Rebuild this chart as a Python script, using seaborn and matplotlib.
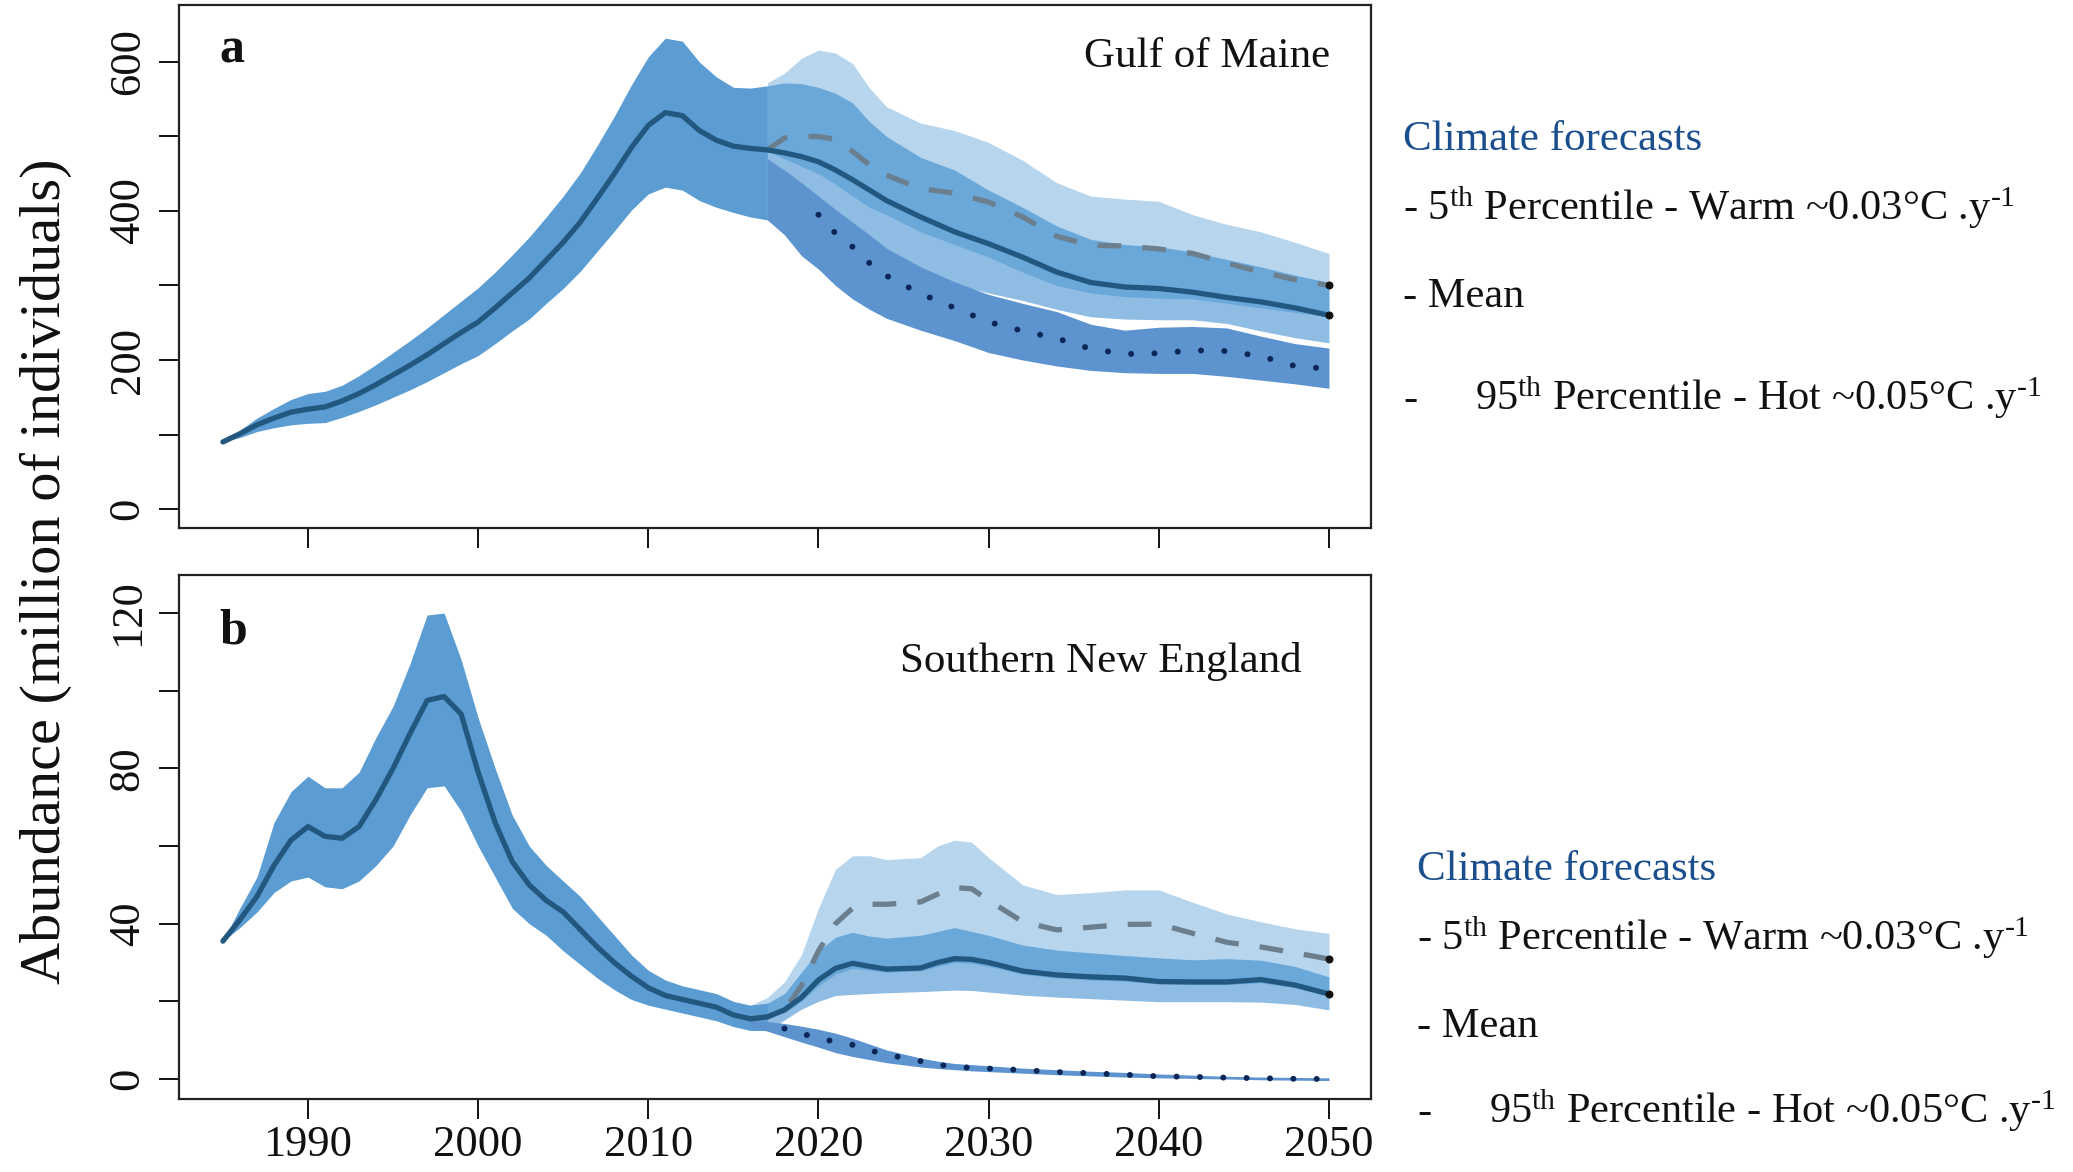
import numpy as np
import matplotlib
matplotlib.use("Agg")
import matplotlib.pyplot as plt
import seaborn as sns

# ---------------------------------------------------------------
# Gulf of Maine (panel a) - million of individuals
# ---------------------------------------------------------------
a_hist_years = list(range(1985, 2018))
a_hist_mean = [90, 101, 113, 122, 130, 134, 137, 145, 155, 167, 180, 193, 207, 222, 237,
               251, 270, 290, 310, 334, 358, 385, 417, 450, 485, 515, 532, 528, 508, 495,
               487, 484, 482]
a_hist_hi = [90, 106, 122, 135, 147, 155, 158, 166, 179, 194, 210, 226, 243, 261, 279,
             297, 318, 341, 365, 392, 420, 451, 488, 527, 569, 607, 632, 628, 600, 580,
             566, 565, 568]
a_hist_lo = [90, 96, 104, 109, 113, 115, 116, 123, 131, 140, 150, 160, 171, 183, 195,
             206, 222, 239, 255, 276, 296, 319, 346, 373, 401, 423, 432, 428, 414, 405,
             398, 392, 388]

a_fc_years = [2017, 2018, 2019, 2020, 2021, 2022, 2023, 2024, 2026, 2028, 2030,
              2032, 2034, 2036, 2038, 2040, 2042, 2044, 2046, 2048, 2050]
a_mean = [482, 478, 473, 466, 455, 442, 428, 414, 392, 372, 356,
          338, 318, 304, 298, 296, 291, 284, 278, 270, 260]
a_mean_hi = [568, 572, 571, 566, 558, 545, 520, 500, 472, 455, 428,
             405, 380, 362, 355, 352, 345, 335, 325, 314, 304]
a_mean_lo = [388, 383, 377, 370, 360, 350, 340, 330, 315, 302, 290,
             280, 268, 258, 255, 254, 254, 249, 239, 230, 223]
a_warm = [482, 498, 500, 500, 496, 480, 462, 448, 430, 424, 412,
          392, 366, 354, 353, 349, 343, 330, 318, 308, 300]
a_warm_hi = [572, 585, 605, 616, 612, 598, 565, 540, 518, 508, 492,
             468, 438, 420, 416, 413, 395, 382, 372, 358, 343]
a_warm_lo = [480, 470, 460, 450, 436, 420, 405, 395, 372, 355, 338,
             318, 300, 290, 285, 283, 282, 276, 270, 264, 258]
a_hot = [482, 452, 420, 395, 370, 352, 330, 313, 289, 270, 251,
         239, 229, 215, 208, 209, 213, 212, 205, 192, 188]
a_hot_hi = [470, 455, 438, 420, 402, 385, 368, 350, 325, 305, 288,
            276, 265, 248, 240, 244, 245, 243, 232, 222, 216]
a_hot_lo = [388, 368, 340, 322, 300, 282, 268, 256, 240, 226, 210,
            200, 192, 186, 183, 182, 182, 178, 173, 168, 162]
a_hot_line_from = 2020

# ---------------------------------------------------------------
# Southern New England (panel b) - million of individuals
# ---------------------------------------------------------------
b_hist_years = list(range(1985, 2018))
b_hist_mean = [35.5, 41, 47, 55, 61.5, 65, 62.5, 62, 65, 72, 80, 89, 97.5, 98.5, 94,
               79, 66, 56, 50, 46, 43, 38.5, 34, 30, 26.5, 23.5, 21.5, 20.5, 19.5, 18.5,
               16.5, 15.5, 16]
b_hist_hi = [35.5, 44, 52, 66, 74, 78, 75, 75, 79, 88, 96, 107, 119.5, 120, 108,
             93, 80, 68, 60, 55, 51, 47, 42, 37, 32, 28, 25.5, 24, 23, 22,
             20, 19, 19.5]
b_hist_lo = [35.5, 39, 43, 48, 51, 52, 49.5, 49, 51, 55, 60, 68, 75, 75.5, 69,
             60, 52, 44, 40, 37, 33, 29.5, 26, 23, 20.5, 19, 18, 17, 16, 15,
             13.5, 12.5, 12.5]

b_fc_years = [2016, 2017, 2018, 2019, 2020, 2021, 2022, 2023, 2024, 2026, 2027, 2028,
              2029, 2030, 2032, 2034, 2036, 2038, 2040, 2042, 2044, 2046, 2048, 2050]
b_mean = [15.5, 16, 17.8, 21, 25.5, 28.5, 29.8, 29, 28.3, 28.6, 30, 31,
          30.8, 30, 27.8, 26.8, 26.3, 26, 25.1, 25, 25, 25.6, 24.2, 21.9]
b_mean_hi = [19, 19.5, 22, 27.5, 33, 36.5, 37.8, 36.8, 36.3, 37, 38, 39,
             38, 37, 34.5, 33.2, 32.5, 31.8, 31.2, 30.7, 31, 30.6, 29, 26.3]
b_mean_lo = [12.5, 12.5, 15.2, 18, 20, 21.5, 21.8, 22, 22.2, 22.5, 22.7, 22.9,
             22.8, 22.4, 21.6, 21.1, 20.7, 20.3, 19.9, 19.9, 19.9, 19.8, 19.2, 17.8]
b_warm = [15.5, 16, 17.8, 24, 33, 40, 44, 45, 45, 45.6, 47.6, 49.3,
          49, 46, 40.5, 38.4, 39.1, 39.8, 39.9, 37.5, 35.2, 34, 32.5, 30.9]
b_warm_hi = [19, 21, 25, 32, 44, 54, 57.5, 57.5, 56.5, 57, 60, 61.5,
             61, 57, 50, 47.5, 48, 48.7, 48.7, 45.5, 42.5, 40.5, 38.7, 37.5]
b_warm_lo = [15.5, 16, 17, 20, 24, 27, 28.5, 28, 27.5, 27.8, 29, 30,
             29.8, 29, 27, 26, 25.5, 25.2, 24.5, 24.3, 24.3, 24.8, 23.5, 21.3]
b_hot = [15.5, 15, 13, 11.8, 10.3, 9.7, 8.8, 7.4, 6.3, 4.6, 3.7, 3.1,
         2.9, 2.7, 2.3, 1.8, 1.5, 1.1, 0.7, 0.55, 0.35, 0.2, 0.05, 0.0]
b_hot_hi = [15, 14.8, 14.3, 13.6, 12.8, 11.8, 10.5, 9.0, 7.5, 5.4, 4.6, 4.0,
            3.7, 3.4, 2.8, 2.4, 2.0, 1.7, 1.3, 1.0, 0.7, 0.5, 0.4, 0.3]
b_hot_lo = [13.5, 12.3, 10.9, 9.5, 8.2, 6.8, 5.8, 5.0, 4.2, 3.1, 2.7, 2.4,
            2.1, 1.9, 1.5, 1.1, 0.8, 0.5, 0.3, 0.15, 0.0, -0.2, -0.3, -0.4]
b_hot_line_from = 2018

# axis ticks and labels
x_ticks = [1990, 2000, 2010, 2020, 2030, 2040, 2050]
a_yticks = [0, 100, 200, 300, 400, 500, 600]
b_yticks = [0, 20, 40, 60, 80, 100, 120]

legend_head = "Climate forecasts"
legend_warm = r"- 5$^{\text{th}}$ Percentile - Warm ~0.03°C .y$^{\text{-1}}$"
legend_mean = "- Mean"
legend_hot = r"95$^{\text{th}}$ Percentile - Hot ~0.05°C .y$^{\text{-1}}$"

# colours
WARM_FILL = "#b7d6ee"
MEAN_FILL = "#1f7bc8"
HIST_FILL = "#5b9dd3"
HOT_FILL = "#5d93cf"
MEAN_LINE = "#22587f"
WARM_LINE = "#6b7f8e"
HOT_LINE = "#0b2657"
HEAD_COLOR = "#1b4f8d"

sns.set_theme(style="ticks")
plt.rcParams["font.family"] = ["Liberation Serif", "DejaVu Serif"]
plt.rcParams["mathtext.fontset"] = "custom"
plt.rcParams["mathtext.rm"] = "Liberation Serif"
plt.rcParams["mathtext.it"] = "Liberation Serif:italic"
plt.rcParams["mathtext.bf"] = "Liberation Serif:bold"

W, H = 2073, 1172
fig = plt.figure(figsize=(W / 100, H / 100), dpi=100)
fig.patch.set_facecolor("white")


def box(left, top, right, bottom):
    return [left / W, 1 - bottom / H, (right - left) / W, (bottom - top) / H]


ax_a = fig.add_axes(box(179, 5, 1371, 528))
ax_b = fig.add_axes(box(179, 575, 1371, 1099))


def draw_panel(ax, hist_years, hist_mean, hist_hi, hist_lo, fc_years,
               mean, mean_hi, mean_lo, warm, warm_hi, warm_lo, hot, hot_hi, hot_lo,
               hot_from):
    # forecast envelopes
    ax.fill_between(fc_years, warm_lo, warm_hi, color=WARM_FILL, lw=0, zorder=1)
    ax.fill_between(fc_years, mean_lo, mean_hi, color=MEAN_FILL, alpha=0.5, lw=0, zorder=2)
    # hindcast envelope
    ax.fill_between(hist_years, hist_lo, hist_hi, color=HIST_FILL, lw=0, zorder=3)
    ax.fill_between(fc_years, hot_lo, hot_hi, color=HOT_FILL, lw=0, zorder=4)

    sns.lineplot(x=fc_years, y=warm, ax=ax, color=WARM_LINE, lw=3.8,
                 linestyle=(0, (4.5, 4.0)), zorder=5, estimator=None, sort=False,
                 marker="o", markevery=[len(fc_years) - 1], markersize=5,
                 markerfacecolor="#111111", markeredgecolor="#111111")
    hx = [x for x in fc_years if x >= hot_from]
    hy = [y for x, y in zip(fc_years, hot) if x >= hot_from]
    sns.lineplot(x=hx, y=hy, ax=ax, color=HOT_LINE, lw=4.3,
                 linestyle=(0, (0.01, 3.9)), dash_capstyle="round", zorder=6,
                 estimator=None, sort=False)
    cut = fc_years.index(hist_years[-1]) + 1
    years_all = list(hist_years) + list(fc_years[cut:])
    mean_all = list(hist_mean) + list(mean[cut:])
    sns.lineplot(x=years_all, y=mean_all, ax=ax, color=MEAN_LINE, lw=3.8, zorder=7,
                 estimator=None, sort=False, solid_capstyle="round",
                 marker="o", markevery=[len(years_all) - 1], markersize=5,
                 markerfacecolor="#111111", markeredgecolor="#111111")


def style_axis(ax, yticks, ylim):
    ax.set_xlim(1982.42, 2052.47)
    ax.set_ylim(*ylim)
    ax.set_xticks(x_ticks)
    ax.set_xticklabels([str(t) for t in x_ticks])
    ax.set_yticks(yticks)
    ax.set_yticklabels([str(v) if i % 2 == 0 else "" for i, v in enumerate(yticks)],
                       rotation=90, va="center")
    ax.tick_params(axis="both", direction="out", length=14.5, width=1.4,
                   labelsize=32, colors="#111111")
    ax.tick_params(axis="y", pad=8)
    ax.tick_params(axis="x", pad=4)
    ax.set_xlabel("")
    ax.set_ylabel("")
    for sp in ax.spines.values():
        sp.set_visible(True)
        sp.set_linewidth(1.6)
        sp.set_color("#222222")
    ax.set_facecolor("white")


draw_panel(ax_a, a_hist_years, a_hist_mean, a_hist_hi, a_hist_lo, a_fc_years,
           a_mean, a_mean_hi, a_mean_lo, a_warm, a_warm_hi, a_warm_lo,
           a_hot, a_hot_hi, a_hot_lo, a_hot_line_from)
draw_panel(ax_b, b_hist_years, b_hist_mean, b_hist_hi, b_hist_lo, b_fc_years,
           b_mean, b_mean_hi, b_mean_lo, b_warm, b_warm_hi, b_warm_lo,
           b_hot, b_hot_hi, b_hot_lo, b_hot_line_from)

style_axis(ax_a, a_yticks, (-25.5, 676.5))
style_axis(ax_b, b_yticks, (-5.15, 129.8))
ax_a.tick_params(axis="x", labelbottom=False)

# panel letters and region names
ax_a.text(0.034, 0.891, "a", transform=ax_a.transAxes, fontsize=36,
          fontweight="bold", ha="left", va="baseline", color="#111111")
ax_b.text(0.034, 0.870, "b", transform=ax_b.transAxes, fontsize=36,
          fontweight="bold", ha="left", va="baseline", color="#111111")
ax_a.text(0.9656, 0.8815, "Gulf of Maine", transform=ax_a.transAxes, fontsize=31,
          ha="right", va="baseline", color="#111111")
ax_b.text(0.942, 0.815, "Southern New England", transform=ax_b.transAxes, fontsize=31,
          ha="right", va="baseline", color="#111111")

# shared y-axis title
fig.text(46 / W, 1 - 571 / H, "Abundance (million of individuals)", rotation=90,
         ha="center", va="center", fontsize=42, color="#111111")


def legend_block(x_left, x_hot, baselines):
    yh, y1, y2, y3 = [1 - b / H for b in baselines]
    fig.text(x_left / W, yh, legend_head, fontsize=31, color=HEAD_COLOR,
             ha="left", va="baseline")
    fig.text(x_left / W, y1, legend_warm, fontsize=30.5, color="#111111",
             ha="left", va="baseline")
    fig.text(x_left / W, y2, legend_mean, fontsize=30.5, color="#111111",
             ha="left", va="baseline")
    fig.text(x_left / W, y3, "-", fontsize=30.5, color="#111111",
             ha="left", va="baseline")
    fig.text(x_hot / W, y3, legend_hot, fontsize=30.5, color="#111111",
             ha="left", va="baseline")


legend_block(1403, 1475, (150, 220, 307, 410))
legend_block(1417, 1489, (880, 950, 1037, 1123))

fig.savefig("out.png", dpi=100, facecolor="white")
